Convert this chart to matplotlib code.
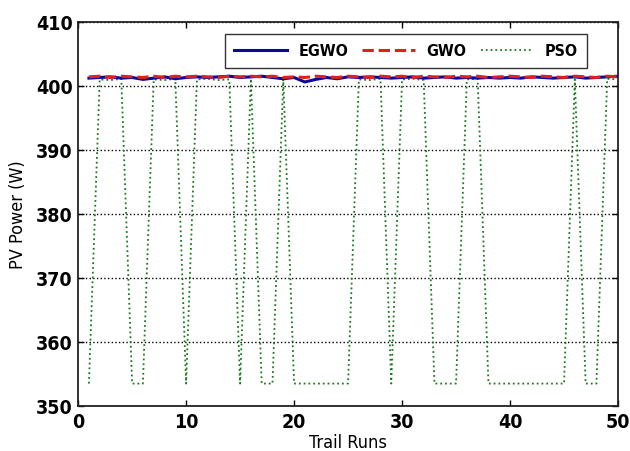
import numpy as np
import matplotlib
matplotlib.use('Agg')
import matplotlib.pyplot as plt
from matplotlib import font_manager

# Dados
runs = np.arange(1, 51)

egwo = [401.2, 401.3, 401.4, 401.2, 401.3, 401.0, 401.2, 401.4, 401.1, 401.3,
        401.4, 401.3, 401.4, 401.5, 401.3, 401.4, 401.5, 401.3, 401.1, 401.3,
        400.6, 401.0, 401.3, 401.1, 401.4, 401.3, 401.4, 401.3, 401.2, 401.3,
        401.4, 401.2, 401.3, 401.4, 401.2, 401.3, 401.2, 401.3, 401.2, 401.3,
        401.2, 401.4, 401.3, 401.2, 401.3, 401.4, 401.2, 401.3, 401.4, 401.5]

gwo = [401.4, 401.5, 401.3, 401.5, 401.4, 401.3, 401.5, 401.3, 401.5, 401.4,
       401.5, 401.4, 401.3, 401.5, 401.4, 401.5, 401.4, 401.5, 401.3, 401.4,
       401.3, 401.5, 401.4, 401.3, 401.5, 401.4, 401.3, 401.5, 401.4, 401.5,
       401.3, 401.5, 401.4, 401.3, 401.5, 401.4, 401.5, 401.3, 401.4, 401.5,
       401.4, 401.3, 401.5, 401.4, 401.3, 401.5, 401.4, 401.3, 401.5, 401.4]

pso = [353.5, 401.0, 400.9, 401.1, 353.5, 353.5, 401.0, 400.9, 401.1, 353.5,
       401.0, 401.1, 400.9, 401.0, 353.5, 401.1, 353.5, 353.5, 401.0, 353.5,
       353.5, 353.5, 353.5, 353.5, 353.5, 401.0, 400.9, 401.1, 353.5, 401.0,
       401.1, 400.9, 353.5, 353.5, 353.5, 401.0, 401.1, 353.5, 353.5, 353.5,
       353.5, 353.5, 353.5, 353.5, 353.5, 401.0, 353.5, 353.5, 401.1, 401.0]

y_ticks = [350, 360, 370, 380, 390, 400, 410]
x_ticks = [0, 10, 20, 30, 40, 50]

# fonte estreita (tipo Arial Narrow)
nomes = {f.name for f in font_manager.fontManager.ttflist}
if 'Liberation Sans Narrow' in nomes:
    fonte, estica = 'Liberation Sans Narrow', 'normal'
else:
    fonte, estica = 'DejaVu Sans', 'condensed'

fig = plt.figure(figsize=(6.3, 4.52), dpi=100)
ax = fig.add_axes([0.124, 0.0996, 0.857, 0.85])

ax.plot(runs, egwo, color='#0a0a9a', linestyle='-', linewidth=2.2, label='EGWO', zorder=4)
ax.plot(runs, gwo, color='#e02020', linestyle='--', linewidth=2.2, label='GWO', zorder=5)
ax.plot(runs, pso, color='#1b7a1b', linestyle=':', linewidth=1.3, label='PSO', zorder=3)

ax.set_xlim(0, 50)
ax.set_ylim(350, 410)
ax.set_xticks(x_ticks)
ax.set_yticks(y_ticks)
ax.set_xticklabels([str(t) for t in x_ticks], fontfamily=fonte, fontstretch=estica,
                   fontweight='bold', fontsize=14)
ax.set_yticklabels([str(t) for t in y_ticks], fontfamily=fonte, fontstretch=estica,
                   fontweight='bold', fontsize=14)
ax.tick_params(direction='in', top=True, right=True, length=4, width=1, pad=4)

ax.yaxis.grid(True, color='black', linestyle=':', linewidth=1.0)
ax.xaxis.grid(False)

for s in ax.spines.values():
    s.set_linewidth(1.3)
    s.set_color('#222222')

ax.set_xlabel('Trail Runs', fontfamily=fonte, fontstretch=estica, fontsize=13, labelpad=2)
ax.set_ylabel('PV Power (W)', fontfamily=fonte, fontstretch=estica, fontsize=13, labelpad=6)

leg = ax.legend(loc='upper right', bbox_to_anchor=(0.943, 0.969), ncol=3,
                frameon=True, fancybox=False, handlelength=3.3, columnspacing=0.9,
                handletextpad=0.7, borderpad=0.6, borderaxespad=0,
                prop={'family': fonte, 'stretch': estica, 'weight': 'bold', 'size': 11.5})
leg.get_frame().set_edgecolor('black')
leg.get_frame().set_linewidth(1.0)

plt.savefig('out.png', dpi=100)
